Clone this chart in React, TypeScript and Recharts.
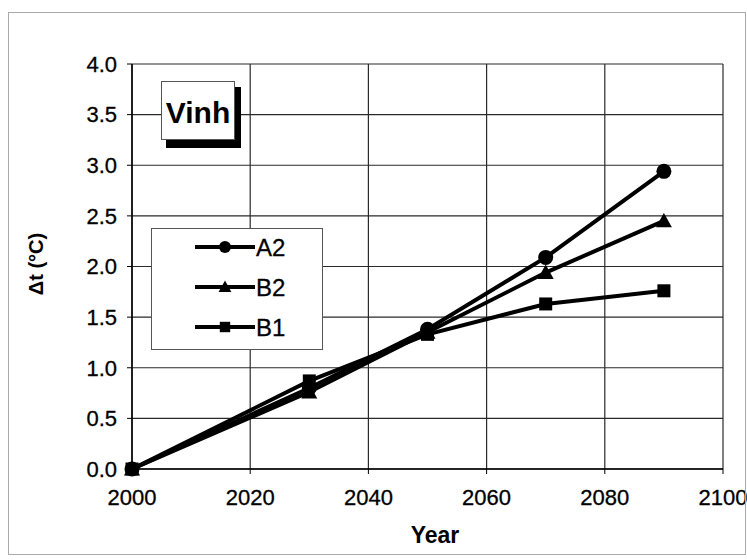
import React from 'react';
import { LineChart, Line, XAxis, YAxis, CartesianGrid } from 'recharts';

const years = [2000, 2030, 2050, 2070, 2090];
const a2Values = [0, 0.8, 1.38, 2.09, 2.94];
const b2Values = [0, 0.76, 1.35, 1.94, 2.45];
const b1Values = [0, 0.87, 1.33, 1.63, 1.76];
const xTicks = [2000, 2020, 2040, 2060, 2080, 2100];
const yTicks = [0, 0.5, 1, 1.5, 2, 2.5, 3, 3.5, 4];
const seriesNames = ['A2', 'B2', 'B1'];
const stationName = 'Vinh';

const data = years.map((y, i) => ({ year: y, A2: a2Values[i], B2: b2Values[i], B1: b1Values[i] }));

const FONT = '"Liberation Sans", Arial, sans-serif';

function Marker({ kind, cx, cy, s = 1 }: { kind: string; cx: number; cy: number; s?: number }) {
  if (kind === 'A2') return <circle cx={cx} cy={cy} r={7.5 * s} fill="#000" />;
  if (kind === 'B2') {
    const h = 8 * s;
    return <polygon points={`${cx},${cy - h} ${cx + h},${cy + h * 0.8} ${cx - h},${cy + h * 0.8}`} fill="#000" />;
  }
  const a = 6.5 * s;
  return <rect x={cx - a} y={cy - a} width={2 * a} height={2 * a} fill="#000" />;
}

const makeDot = (kind: string) => (props: any) => {
  const { cx, cy, index } = props;
  if (cx == null || cy == null) return <g key={`${kind}-${index}`} />;
  return <g key={`${kind}-${index}`}><Marker kind={kind} cx={cx} cy={cy} /></g>;
};

const tickStyle = { fill: '#000', fontSize: 22, fontFamily: FONT, stroke: '#000', strokeWidth: 0.3 };

export default function App() {
  return (
    <div style={{ position: 'absolute', left: 0, top: 0, width: 747, height: 560, background: '#fff' }}>
      <LineChart
        width={747}
        height={560}
        data={data}
        margin={{ top: 64, right: 24, bottom: 0, left: 0 }}
      >
        <CartesianGrid stroke="#2a2a2a" strokeWidth={1.2} />
        <XAxis
          dataKey="year"
          type="number"
          domain={[2000, 2100]}
          ticks={xTicks}
          height={91}
          tickSize={5}
          tickMargin={15}
          axisLine={{ stroke: '#000', strokeWidth: 1.5 }}
          tickLine={{ stroke: '#000' }}
          tick={tickStyle}
          interval={0}
        />
        <YAxis
          type="number"
          domain={[0, 4]}
          ticks={yTicks}
          width={132}
          tickSize={5}
          tickMargin={10}
          axisLine={{ stroke: '#000', strokeWidth: 1.5 }}
          tickLine={{ stroke: '#000' }}
          tick={tickStyle}
          tickFormatter={(v: number) => v.toFixed(1)}
          interval={0}
        />
        <Line dataKey="B1" stroke="#000" strokeWidth={4} dot={makeDot('B1')} isAnimationActive={false} />
        <Line dataKey="B2" stroke="#000" strokeWidth={4} dot={makeDot('B2')} isAnimationActive={false} />
        <Line dataKey="A2" stroke="#000" strokeWidth={4} dot={makeDot('A2')} isAnimationActive={false} />
      </LineChart>
      <svg width={747} height={560} style={{ position: 'absolute', left: 0, top: 0, pointerEvents: 'none' }}>
        <rect x={8.5} y={12.5} width={737} height={542} fill="none" stroke="#aaa" strokeWidth={1} />
        {/* station label */}
        <rect x={235} y={87} width={6} height={61} fill="#000" />
        <rect x={166} y={140} width={75} height={8} fill="#000" />
        <rect x={161.5} y={81.5} width={73} height={58} fill="#fff" stroke="#555" strokeWidth={1} />
        <text x={198} y={123} textAnchor="middle" fontFamily={FONT} fontWeight="bold" fontSize={30} fill="#000">{stationName}</text>
        {/* legend */}
        <rect x={151.5} y={228.5} width={171} height={121} fill="#fff" stroke="#555" strokeWidth={1} />
        {seriesNames.map((n, i) => {
          const y = 247 + i * 40;
          return (
            <g key={n}>
              <line x1={195} x2={255} y1={y} y2={y} stroke="#000" strokeWidth={4} />
              <Marker kind={n} cx={225} cy={y} s={0.8} />
              <text x={256} y={y + 9} fontFamily={FONT} fontSize={24} fill="#000" stroke="#000" strokeWidth={0.3}>{n}</text>
            </g>
          );
        })}
        {/* axis titles */}
        <text x={435} y={543} textAnchor="middle" fontFamily={FONT} fontWeight="bold" fontSize={23} fill="#000">Year</text>
        <text x={0} y={0} transform="translate(43,264) rotate(-90)" textAnchor="middle" fontFamily={FONT} fontWeight="bold" fontSize={20} fill="#000">Δt (°C)</text>
      </svg>
    </div>
  );
}
